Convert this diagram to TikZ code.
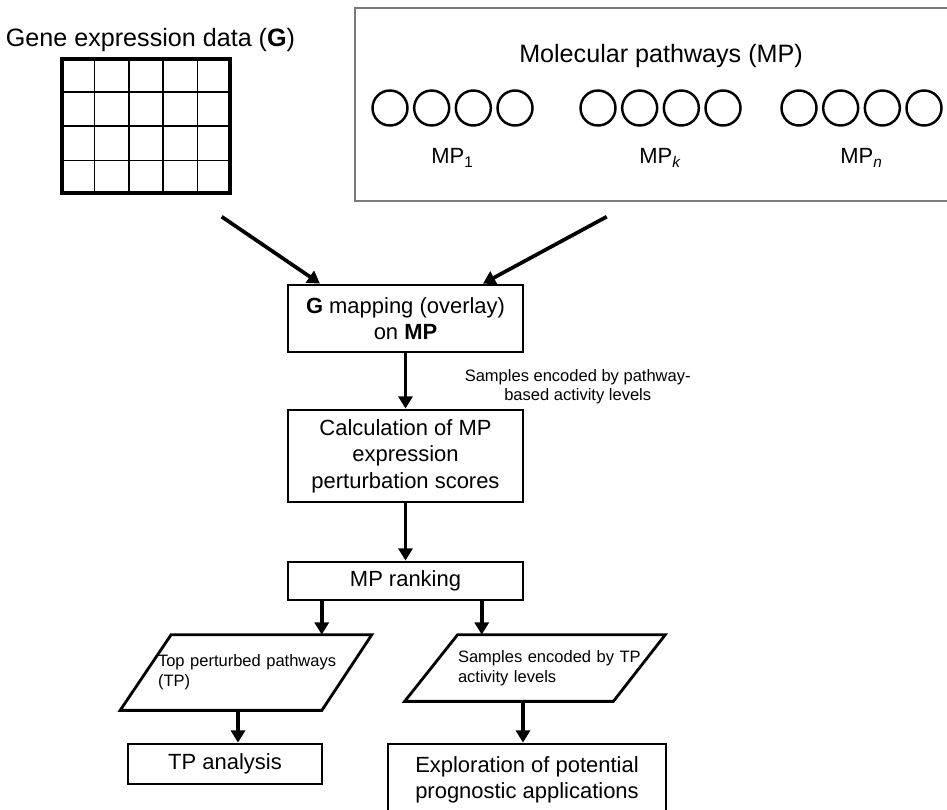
\documentclass[tikz,border=0pt]{standalone}
\usepackage{fontspec}
\setmainfont{Liberation Sans}
\usetikzlibrary{arrows.meta,calc}
\definecolor{framegray}{HTML}{7A7A7A}

\begin{document}
\begin{tikzpicture}[
	x=0.2mm, y=-0.2mm,
	box/.style={
		draw, line width=1.6pt, rectangle,
		minimum width=4.7cm, inner sep=2pt,
		font=\fontsize{12.5}{15}\selectfont, align=center
	},
	iobox/.style={
		rectangle, font=\fontsize{9.4}{11.5}\selectfont,
		align=left, inner sep=0pt
	},
	para/.style={line width=1.6pt, line join=miter},
	pw/.style={draw, circle, line width=1.4pt, minimum size=0.7cm, inner sep=0pt},
	mplabel/.style={font=\fontsize{12.5}{15}\selectfont},
	title/.style={font=\fontsize{14.3}{17}\selectfont},
	note/.style={font=\fontsize{9.4}{10.8}\selectfont, align=center},
	arr/.style={-{Triangle[length=7pt,width=8pt]}, line width=2.1pt},
	]
	\useasboundingbox (0,0) rectangle (947,809);
	
	% gene expression matrix
	\node[title] (gtitle) at (150.5,40) {Gene expression data (\textbf{G})};
	\node[draw, line width=1.8pt, minimum width=3.36cm, minimum height=2.68cm, inner sep=0pt] (gmat) at (146,126) {};
	\foreach \i in {1,...,4}
		\draw[line width=0.9pt] ($(gmat.north west)!\i/5!(gmat.north east)$) -- ($(gmat.south west)!\i/5!(gmat.south east)$);
	\foreach \j in {1,2,3}
		\draw[line width=0.9pt] ($(gmat.north west)!\j/4!(gmat.south west)$) -- ($(gmat.north east)!\j/4!(gmat.south east)$);
	
	% pathways
	\node[draw=framegray, line width=0.9pt, minimum width=12.2cm, minimum height=3.86cm] (mpframe) at (660,104.5) {};
	\node[title] (mptitle) at (661,56) {Molecular pathways (MP)};
	\foreach \g/\x in {1/390, k/598, n/799} {
		\foreach \i in {0,...,3}
			\node[pw] (pw\g\i) at (\x+41.67*\i,108) {};
	}
	\node[mplabel] (mp1) at (452.5,158) {MP\textsubscript{1}};
	\node[mplabel] (mpk) at (660.5,158) {MP\textsubscript{\textit{k}}};
	\node[mplabel] (mpn) at (861.5,158) {MP\textsubscript{\textit{n}}};
	
	\coordinate (gfrom) at (221.7,216.7);
	\coordinate (mpfrom) at (606.7,216.7);
	
	\node[box, minimum height=1.34cm] (map) at (405.5,318.5) {\textbf{G} mapping (overlay)\\on \textbf{MP}};
	\node[box, minimum height=1.84cm] (calc) at (405.5,456) {Calculation of MP\\expression\\perturbation scores};
	\node[box, minimum height=0.76cm] (rank) at (405.5,581) {MP ranking};
	\node[note] (enc) at (577.7,386.5) {Samples encoded by pathway-\\based activity levels};
	
	\node[iobox, text width=3.66cm, minimum height=1.5cm] (toppw) at (249.5,672.5) {Top perturbed pathways\\(TP)};
	\draw[para] ([xshift=0.27cm]toppw.north west) -- ([xshift=0.61cm]toppw.north east)
		-- ([xshift=-0.39cm]toppw.south east) -- ([xshift=-0.75cm]toppw.south west) -- cycle;
	\node[iobox, text width=3.7cm, minimum height=1.32cm] (sampw) at (550.5,668) {Samples encoded by TP\\activity levels};
	\draw[para] (sampw.north west) -- ([xshift=0.44cm]sampw.north east)
		-- ([xshift=-0.6cm]sampw.south east) -- ([xshift=-1.06cm]sampw.south west) -- cycle;
	
	\node[box, minimum width=3.88cm, minimum height=0.8cm] (tpa) at (225,764) {TP analysis};
	\node[box, minimum width=5.56cm, minimum height=1.42cm] (expl) at (527,779.5) {Exploration of potential\\prognostic applications};
	
	\draw[arr] (gfrom) -- ([xshift=-1.71cm]map.north);
	\draw[arr] (mpfrom) -- ([xshift=1.55cm]map.north);
	\draw[arr] (map) -- (calc);
	\draw[arr] (calc) -- (rank);
	\draw[arr] ([xshift=-1.675cm]rank.south) -- ([xshift=-1.675cm]rank.south |- toppw.north);
	\draw[arr] ([xshift=1.525cm]rank.south) -- ([xshift=1.525cm]rank.south |- sampw.north);
	\draw[arr] ([xshift=0.26cm]tpa.north |- toppw.south) -- ([xshift=0.26cm]tpa.north);
	\draw[arr] ([xshift=-0.08cm]expl.north |- sampw.south) -- ([xshift=-0.08cm]expl.north);
	
\end{tikzpicture}
\end{document}
